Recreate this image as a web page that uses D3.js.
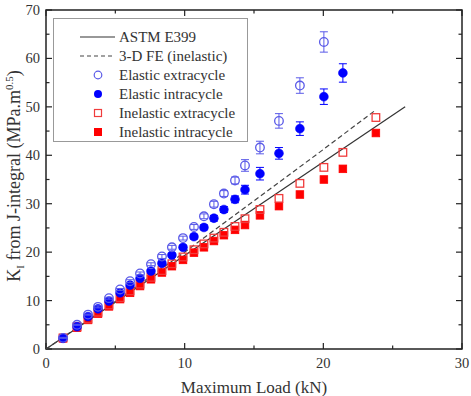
<!DOCTYPE html>
<html><head><meta charset="utf-8">
<script src="https://cdn.jsdelivr.net/npm/d3@7"></script>
<style>body{margin:0;background:#fff}svg{display:block}</style>
</head><body>
<svg id="c" width="471" height="396" font-family="'Liberation Serif', 'DejaVu Serif', serif"></svg>
<script>
const loads = [1.23,2.24,3.03,3.75,4.54,5.34,6.06,6.78,7.57,8.36,9.08,9.88,10.67,11.39,12.11,12.83,13.63,14.35,15.43,16.80,18.31,20.04,21.41,23.79];
const elasticExtra = [2.3,5.0,7.1,8.7,10.5,12.3,14.0,15.6,17.5,19.1,21.0,22.9,25.2,27.4,29.9,32.1,34.8,37.9,41.6,47.1,54.4,63.4];
const elasticExtraErr = [0.1,0.1,0.1,0.2,0.2,0.2,0.3,0.3,0.3,0.4,0.4,0.4,0.5,0.5,0.6,0.6,0.7,1.2,1.3,1.5,1.6,2.1];
const elasticIntra = [2.2,4.6,6.7,8.3,9.9,11.6,13.2,14.6,16.1,17.7,19.4,21.0,23.2,25.1,27.0,28.8,30.9,32.9,36.2,40.4,45.5,52.1,57.0];
const elasticIntraErr = [0.1,0.1,0.1,0.2,0.2,0.2,0.3,0.3,0.3,0.4,0.4,0.4,0.5,0.5,0.6,0.6,0.7,0.9,1.3,1.2,1.4,1.6,1.9];
const inelasticExtra = [2.3,4.6,6.2,7.6,9.1,10.6,12.0,13.4,14.8,16.2,17.6,19.0,20.5,21.7,22.9,24.1,25.3,26.9,28.8,31.1,34.2,37.5,40.6,47.8];
const inelasticIntra = [2.2,4.4,6.0,7.3,8.8,10.3,11.6,13.0,14.4,15.8,17.1,18.4,19.9,21.0,22.3,23.5,24.6,25.6,27.6,29.5,31.9,35.0,37.2,44.6];
const astmX = [0,25.9], astmY = [0,50];
const feX = [0,5,10,15,20,23.8], feY = [0,9.8,20.0,30.6,41.2,49.4];
const xTicks = [0,10,20,30], yTicks = [0,10,20,30,40,50,60,70];

const svg = d3.select("#c");
const L=46,R=462,T=10,B=349;
const x = d3.scaleLinear().domain([0,30]).range([L,R]);
const y = d3.scaleLinear().domain([0,70]).range([B,T]);
const axCol="#222", txtCol="#333";

const g = svg.append("g");
const xmin=d3.range(0,31,5), ymin=d3.range(0,71,5);
xmin.forEach(v=>{const len = v%10===0?6:3.5;
  g.append("line").attr("x1",x(v)).attr("x2",x(v)).attr("y1",B).attr("y2",B-len).attr("stroke",axCol).attr("stroke-width",1.2);
  g.append("line").attr("x1",x(v)).attr("x2",x(v)).attr("y1",T).attr("y2",T+len).attr("stroke",axCol).attr("stroke-width",1.2);});
ymin.forEach(v=>{const len = v%10===0?6:3.5;
  g.append("line").attr("y1",y(v)).attr("y2",y(v)).attr("x1",L).attr("x2",L+len).attr("stroke",axCol).attr("stroke-width",1.2);
  g.append("line").attr("y1",y(v)).attr("y2",y(v)).attr("x1",R).attr("x2",R-len).attr("stroke",axCol).attr("stroke-width",1.2);});
svg.append("rect").attr("x",L).attr("y",T).attr("width",R-L).attr("height",B-T).attr("fill","none").attr("stroke",axCol).attr("stroke-width",1.5);

xTicks.forEach(v=>svg.append("text").attr("x",x(v)).attr("y",B+19).attr("text-anchor","middle").attr("font-size",14.5).attr("fill",txtCol).text(v));
yTicks.forEach(v=>svg.append("text").attr("x",L-6).attr("y",y(v)+5).attr("text-anchor","end").attr("font-size",14.5).attr("fill",txtCol).text(v));

svg.append("text").attr("x",254).attr("y",393).attr("text-anchor","middle").attr("font-size",17).attr("fill",txtCol).text("Maximum Load (kN)");
const yt = svg.append("text").attr("transform","translate(20,176) rotate(-90)").attr("text-anchor","middle").attr("font-size",18).attr("fill",txtCol);
yt.append("tspan").text("K");
yt.append("tspan").attr("font-size",11).attr("dy",4).text("I");
yt.append("tspan").attr("dy",-4).text(" from J-integral (MPa.m");
yt.append("tspan").attr("font-size",11).attr("dy",-7).text("0.5");
yt.append("tspan").attr("dy",7).text(")");

const line = d3.line().x(d=>x(d[0])).y(d=>y(d[1]));
svg.append("path").attr("d",line(astmX.map((v,i)=>[v,astmY[i]]))).attr("fill","none").attr("stroke","#333").attr("stroke-width",1.2);
svg.append("path").attr("d",line(feX.map((v,i)=>[v,feY[i]]))).attr("fill","none").attr("stroke","#444").attr("stroke-width",1.2).attr("stroke-dasharray","5,3");

const lightBlue="#5a5ae8", blue="#0000ff", red="#ff0000", lightRed="#f03c3c";
function errBars(vals,errs,col){
  vals.forEach((v,i)=>{const e=errs[i], cx=x(loads[i]);
    svg.append("line").attr("x1",cx).attr("x2",cx).attr("y1",y(v+e)).attr("y2",y(v-e)).attr("stroke",col).attr("stroke-width",1);
    [v+e,v-e].forEach(w=>svg.append("line").attr("x1",cx-4).attr("x2",cx+4).attr("y1",y(w)).attr("y2",y(w)).attr("stroke",col).attr("stroke-width",1));});
}
function squares(vals,filled,col){
  svg.append("g").selectAll("rect").data(vals).join("rect")
   .attr("x",(d,i)=>x(loads[i])-3.8).attr("y",d=>y(d)-3.8).attr("width",7.6).attr("height",7.6)
   .attr("fill",filled?col:"#fff").attr("fill-opacity",filled?1:0).attr("stroke",col).attr("stroke-width",filled?0.8:1.3);
}
function circles(vals,filled,col){
  svg.append("g").selectAll("circle").data(vals).join("circle")
   .attr("cx",(d,i)=>x(loads[i])).attr("cy",d=>y(d)).attr("r",filled?4.4:4.3)
   .attr("fill",filled?col:"none").attr("stroke",col).attr("stroke-width",filled?0.6:1.3);
}
squares(inelasticIntra,true,red);
squares(inelasticExtra,false,lightRed);
errBars(elasticIntra,elasticIntraErr,blue);
circles(elasticIntra,true,blue);
errBars(elasticExtra,elasticExtraErr,lightBlue);
circles(elasticExtra,false,lightBlue);

const lg = svg.append("g");
lg.append("rect").attr("x",53.5).attr("y",18.5).attr("width",194).attr("height",123).attr("fill","#fff").attr("stroke","#999").attr("stroke-width",1);
const names=["ASTM E399","3-D FE (inelastic)","Elastic extracycle","Elastic intracycle","Inelastic extracycle","Inelastic intracycle"];
names.forEach((n,i)=>{const yy=37+i*19;
  lg.append("text").attr("x",119).attr("y",yy+5).attr("font-size",15).attr("fill",txtCol).text(n);
  if(i===0) lg.append("line").attr("x1",80).attr("x2",115).attr("y1",yy).attr("y2",yy).attr("stroke","#333").attr("stroke-width",1.2);
  if(i===1) lg.append("line").attr("x1",80).attr("x2",115).attr("y1",yy).attr("y2",yy).attr("stroke","#444").attr("stroke-width",1.2).attr("stroke-dasharray","4,3");
  if(i===2) lg.append("circle").attr("cx",98).attr("cy",yy).attr("r",3.8).attr("fill","none").attr("stroke",lightBlue).attr("stroke-width",1.2);
  if(i===3) lg.append("circle").attr("cx",98).attr("cy",yy).attr("r",4).attr("fill",blue);
  if(i===4) lg.append("rect").attr("x",94.5).attr("y",yy-3.5).attr("width",7).attr("height",7).attr("fill","none").attr("stroke",lightRed).attr("stroke-width",1.2);
  if(i===5) lg.append("rect").attr("x",94).attr("y",yy-4).attr("width",8).attr("height",8).attr("fill",red);
});
</script>
</body></html>
